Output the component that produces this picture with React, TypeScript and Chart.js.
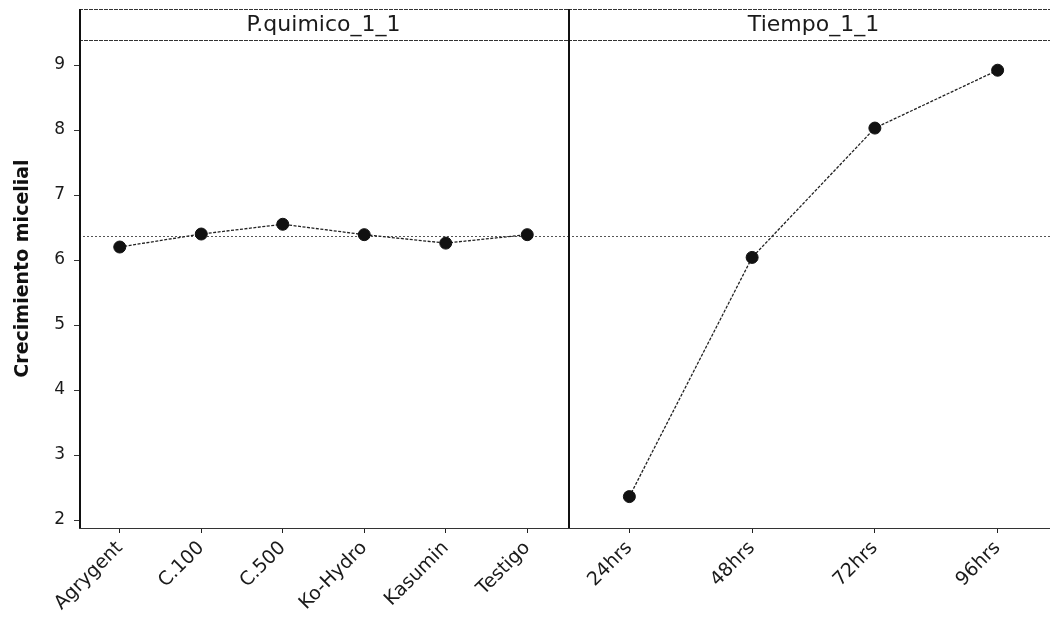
import React, { useEffect, useRef } from "react";
import { Chart, registerables } from "chart.js";

Chart.register(...registerables);

// Factor levels and mean response per level
const quimicoLabels = ["Agrygent", "C.100", "C.500", "Ko-Hydro", "Kasumin", "Testigo"];
const quimicoMeans = [6.2, 6.4, 6.55, 6.39, 6.26, 6.39];
const tiempoLabels = ["24hrs", "48hrs", "72hrs", "96hrs"];
const tiempoMeans = [2.36, 6.04, 8.03, 8.92];
const grandMean = 6.37;

const panelTitles = ["P.quimico_1_1", "Tiempo_1_1"];
const yAxisTitle = "Crecimiento micelial";
const yTickValues = [2, 3, 4, 5, 6, 7, 8, 9];

// Value range of the panel frame (the upper part holds the factor strip)
const Y_MIN = 1.877;
const Y_MAX = 9.862;
const STRIP_HEIGHT = 31;

const FONT = "'DejaVu Sans', 'Noto Sans', sans-serif";
const INK = "#1a1a1a";

const panelFrame = {
  id: "panelFrame",
  beforeDatasetsDraw(chart: any, _args: any, opts: any) {
    const { ctx, chartArea, scales } = chart;
    const { left, right, top, bottom } = chartArea;
    ctx.save();

    // grand mean reference line
    const yRef = Math.round(scales.y.getPixelForValue(opts.reference)) + 0.5;
    ctx.strokeStyle = "#555";
    ctx.lineWidth = 1;
    ctx.setLineDash([2, 2]);
    ctx.beginPath();
    ctx.moveTo(left, yRef);
    ctx.lineTo(right, yRef);
    ctx.stroke();

    // top edge and strip separator
    ctx.strokeStyle = "#333";
    ctx.setLineDash([4, 1]);
    ctx.beginPath();
    ctx.moveTo(left, top + 0.5);
    ctx.lineTo(right, top + 0.5);
    ctx.moveTo(left, top + STRIP_HEIGHT + 0.5);
    ctx.lineTo(right, top + STRIP_HEIGHT + 0.5);
    ctx.stroke();

    // left edge of the panel
    ctx.setLineDash([]);
    ctx.strokeStyle = "#111";
    ctx.lineWidth = 2;
    ctx.beginPath();
    ctx.moveTo(left + 1, top);
    ctx.lineTo(left + 1, bottom);
    ctx.stroke();

    // factor name in the strip
    ctx.fillStyle = INK;
    ctx.font = `22px ${FONT}`;
    ctx.textAlign = "center";
    ctx.textBaseline = "middle";
    ctx.fillText(opts.title, (left + right) / 2, top + STRIP_HEIGHT / 2 + 1);
    ctx.restore();
  },
};

const clearPadding = (scale: any) => {
  scale.paddingTop = 0;
  scale.paddingBottom = 0;
  scale.paddingLeft = 0;
  scale.paddingRight = 0;
};

function makeConfig(labels: string[], values: number[], title: string, showY: boolean): any {
  return {
    type: "line",
    data: {
      labels,
      datasets: [
        {
          data: values,
          borderColor: "#222",
          borderWidth: 1.3,
          borderDash: [3, 1.5],
          pointRadius: 6,
          pointHoverRadius: 6,
          pointBackgroundColor: "#111",
          pointBorderColor: "#111",
          pointBorderWidth: 1,
          tension: 0,
        },
      ],
    },
    options: {
      responsive: false,
      animation: false,
      events: [],
      layout: { autoPadding: false, padding: { top: 9, left: 0, right: 0, bottom: 0 } },
      plugins: {
        legend: { display: false },
        tooltip: { enabled: false },
        panelFrame: { title, reference: grandMean },
      },
      scales: {
        x: {
          type: "category",
          offset: true,
          afterFit: (scale: any) => {
            scale.height = 94;
            clearPadding(scale);
          },
          grid: {
            offset: false,
            drawOnChartArea: false,
            tickLength: 5,
            color: "#222",
          },
          border: { display: true, color: "#333", width: 1, dash: [4, 1] },
          ticks: {
            autoSkip: false,
            minRotation: 45,
            maxRotation: 45,
            padding: 4,
            color: INK,
            font: { family: FONT, size: 19 },
          },
        },
        y: {
          type: "linear",
          display: showY,
          min: Y_MIN,
          max: Y_MAX,
          afterFit: (scale: any) => {
            scale.width = showY ? 79 : 0;
            clearPadding(scale);
          },
          afterBuildTicks: (scale: any) => {
            scale.ticks = yTickValues.map((v) => ({ value: v }));
          },
          grid: {
            drawOnChartArea: false,
            tickLength: 5,
            color: "#333",
          },
          border: { display: false },
          ticks: {
            padding: 9,
            color: INK,
            font: { family: FONT, size: 17 },
          },
          title: {
            display: true,
            text: yAxisTitle,
            color: "#111",
            padding: { top: 12, bottom: 0 },
            font: { family: FONT, size: 19, weight: "bold" },
          },
        },
      },
    },
    plugins: [panelFrame],
  };
}

export default function App() {
  const leftRef = useRef<HTMLCanvasElement>(null);
  const rightRef = useRef<HTMLCanvasElement>(null);

  useEffect(() => {
    const charts: Chart[] = [];
    if (leftRef.current) {
      charts.push(new Chart(leftRef.current, makeConfig(quimicoLabels, quimicoMeans, panelTitles[0], true)));
    }
    if (rightRef.current) {
      charts.push(new Chart(rightRef.current, makeConfig(tiempoLabels, tiempoMeans, panelTitles[1], false)));
    }
    return () => charts.forEach((c) => c.destroy());
  }, []);

  return (
    <div
      style={{
        position: "absolute",
        left: 0,
        top: 0,
        width: 1050,
        height: 622,
        overflow: "hidden",
        background: "#fff",
      }}
    >
      <canvas
        ref={leftRef}
        width={568}
        height={622}
        style={{ position: "absolute", left: 0, top: 0, display: "block" }}
      />
      <canvas
        ref={rightRef}
        width={491}
        height={622}
        style={{ position: "absolute", left: 568, top: 0, display: "block" }}
      />
    </div>
  );
}
